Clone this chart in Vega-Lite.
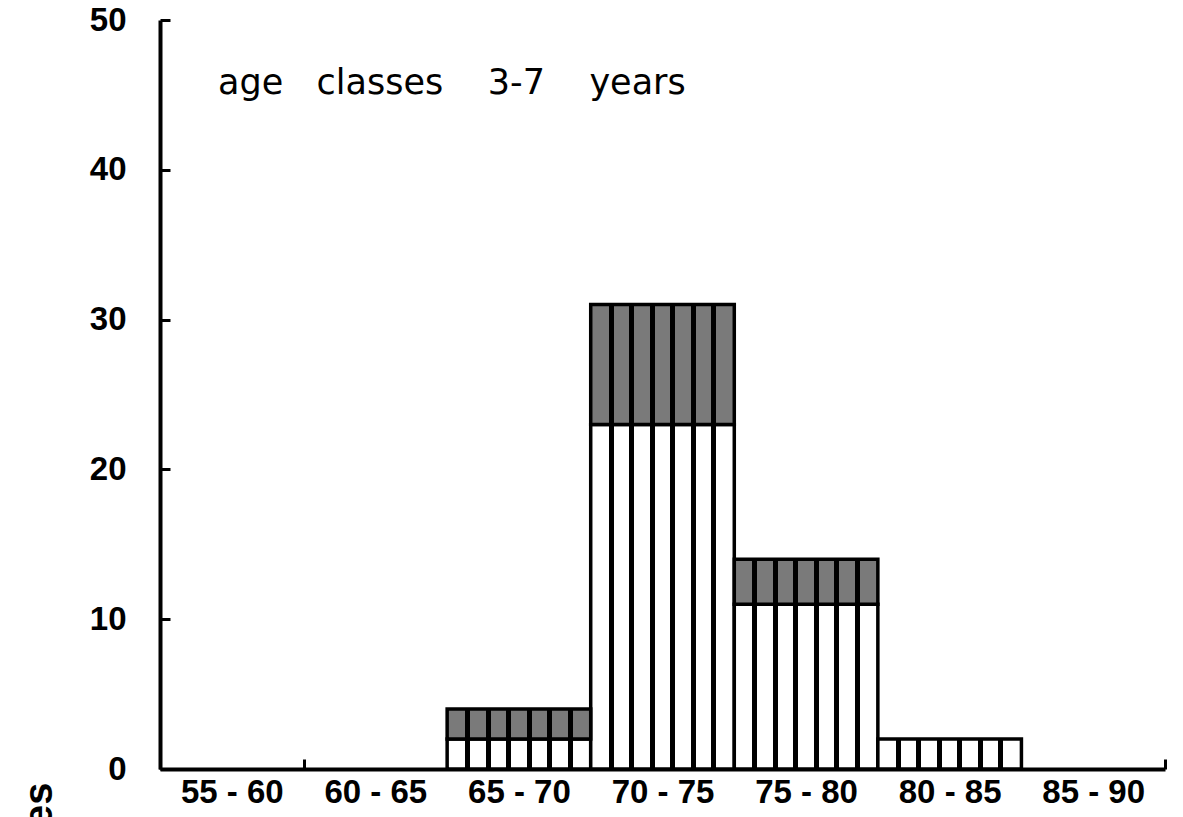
{
  "$schema": "https://vega.github.io/schema/vega-lite/v6.json",
  "autosize": "none",
  "padding": {"left": 160, "top": 20, "right": 18, "bottom": 48},
  "width": 1005,
  "height": 749,
  "background": "white",
  "config": {"view": {"stroke": null}},
  "title": {
    "text": "age\u00a0\u00a0\u00a0classes\u00a0\u00a0\u00a0 3-7\u00a0\u00a0\u00a0 years",
    "anchor": "start",
    "frame": "group",
    "orient": "top",
    "font": "DejaVu Sans",
    "fontSize": 35,
    "fontWeight": "normal",
    "color": "black",
    "baseline": "alphabetic",
    "offset": 0,
    "dx": 58,
    "dy": 125
  },
  "data": {
    "values": [
      {"class": "65-70", "part": "lines", "count": 2},
      {"class": "65-70", "part": "dots", "count": 2},
      {"class": "70-75", "part": "lines", "count": 23},
      {"class": "70-75", "part": "dots", "count": 8},
      {"class": "75-80", "part": "lines", "count": 11},
      {"class": "75-80", "part": "dots", "count": 3},
      {"class": "80-85", "part": "lines", "count": 2}
    ]
  },
  "transform": [
    {"stack": "count", "groupby": ["class"], "sort": [{"field": "part", "order": "descending"}], "as": ["y0", "y1"]}
  ],
  "encoding": {
    "x": {
      "field": "class",
      "type": "nominal",
      "scale": {"domain": ["55-60", "60-65", "65-70", "70-75", "75-80", "80-85", "85-90"], "paddingInner": 0, "paddingOuter": 0},
      "axis": {
        "title": null,
        "labelAngle": 0,
        "labelExpr": "replace(datum.label, '-', ' - ')",
        "labelFont": "Liberation Sans",
        "labelFontWeight": "bold",
        "labelFontSize": 33,
        "labelColor": "black",
        "labelPadding": 17,
        "tickBand": "extent",
        "tickSize": -10,
        "tickWidth": 3,
        "tickColor": "black",
        "domainColor": "black",
        "domainWidth": 4
      }
    },
    "y": {
      "field": "y1",
      "type": "quantitative",
      "scale": {"domain": [0, 50], "nice": false},
      "axis": {
        "title": "number of fishes",
        "titleFont": "Liberation Sans",
        "titleFontWeight": "bold",
        "titleFontSize": 40,
        "titleColor": "black",
        "titleAlign": "right",
        "titleBaseline": "middle",
        "titleAngle": -90,
        "titleX": -121,
        "titleY": 762,
        "values": [0, 10, 20, 30, 40, 50],
        "grid": false,
        "labelFont": "Liberation Sans",
        "labelFontWeight": "bold",
        "labelFontSize": 33,
        "labelColor": "black",
        "labelPadding": 44,
        "tickSize": -10,
        "tickWidth": 3,
        "tickColor": "black",
        "domainColor": "black",
        "domainWidth": 4
      }
    },
    "y2": {"field": "y0"}
  },
  "layer": [
    {
      "transform": [{"filter": "datum.part == 'lines'"}],
      "mark": {
        "type": "bar",
        "stroke": "black",
        "strokeWidth": 3.5,
        "fill": {
          "gradient": "linear", "x1": 0, "x2": 1, "y1": 0, "y2": 0,
          "stops": [
            {"offset": 0, "color": "white"},
            {"offset": 0.125, "color": "white"}, {"offset": 0.125, "color": "black"}, {"offset": 0.16, "color": "black"}, {"offset": 0.16, "color": "white"},
            {"offset": 0.268, "color": "white"}, {"offset": 0.268, "color": "black"}, {"offset": 0.303, "color": "black"}, {"offset": 0.303, "color": "white"},
            {"offset": 0.411, "color": "white"}, {"offset": 0.411, "color": "black"}, {"offset": 0.446, "color": "black"}, {"offset": 0.446, "color": "white"},
            {"offset": 0.554, "color": "white"}, {"offset": 0.554, "color": "black"}, {"offset": 0.589, "color": "black"}, {"offset": 0.589, "color": "white"},
            {"offset": 0.697, "color": "white"}, {"offset": 0.697, "color": "black"}, {"offset": 0.732, "color": "black"}, {"offset": 0.732, "color": "white"},
            {"offset": 0.84, "color": "white"}, {"offset": 0.84, "color": "black"}, {"offset": 0.875, "color": "black"}, {"offset": 0.875, "color": "white"},
            {"offset": 1, "color": "white"}
          ]
        }
      }
    },
    {
      "transform": [{"filter": "datum.part == 'dots'"}],
      "mark": {
        "type": "bar",
        "stroke": "black",
        "strokeWidth": 3.5,
        "fill": {
          "gradient": "linear", "x1": 0, "x2": 1, "y1": 0, "y2": 0,
          "stops": [
            {"offset": 0, "color": "#7a7a7a"},
            {"offset": 0.125, "color": "#7a7a7a"}, {"offset": 0.125, "color": "black"}, {"offset": 0.16, "color": "black"}, {"offset": 0.16, "color": "#7a7a7a"},
            {"offset": 0.268, "color": "#7a7a7a"}, {"offset": 0.268, "color": "black"}, {"offset": 0.303, "color": "black"}, {"offset": 0.303, "color": "#7a7a7a"},
            {"offset": 0.411, "color": "#7a7a7a"}, {"offset": 0.411, "color": "black"}, {"offset": 0.446, "color": "black"}, {"offset": 0.446, "color": "#7a7a7a"},
            {"offset": 0.554, "color": "#7a7a7a"}, {"offset": 0.554, "color": "black"}, {"offset": 0.589, "color": "black"}, {"offset": 0.589, "color": "#7a7a7a"},
            {"offset": 0.697, "color": "#7a7a7a"}, {"offset": 0.697, "color": "black"}, {"offset": 0.732, "color": "black"}, {"offset": 0.732, "color": "#7a7a7a"},
            {"offset": 0.84, "color": "#7a7a7a"}, {"offset": 0.84, "color": "black"}, {"offset": 0.875, "color": "black"}, {"offset": 0.875, "color": "#7a7a7a"},
            {"offset": 1, "color": "#7a7a7a"}
          ]
        }
      }
    }
  ]
}
